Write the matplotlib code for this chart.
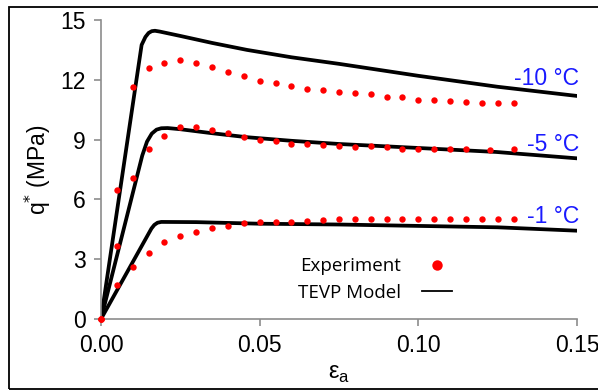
import numpy as np
import matplotlib
matplotlib.use('Agg')
import matplotlib.pyplot as plt
from matplotlib.lines import Line2D
from matplotlib.patches import Rectangle

plt.rcParams['font.family'] = ['Liberation Sans', 'DejaVu Sans']

# experiment (strain, q* in MPa)
x_exp = [0, 0.005, 0.01, 0.015, 0.02, 0.025, 0.03, 0.035, 0.04, 0.045, 0.05,
         0.055, 0.06, 0.065, 0.07, 0.075, 0.08, 0.085, 0.09, 0.095, 0.1,
         0.105, 0.11, 0.115, 0.12, 0.125, 0.13]
q_exp_m10 = [0, 6.47, 11.64, 12.58, 12.84, 13.01, 12.84, 12.66, 12.41, 12.18,
             11.94, 11.83, 11.71, 11.54, 11.47, 11.40, 11.32, 11.29, 11.15,
             11.12, 10.99, 10.97, 10.95, 10.89, 10.84, 10.84, 10.85]
x_exp_m5 = [0, 0.005, 0.01, 0.015, 0.02, 0.025, 0.03, 0.035, 0.04, 0.045,
            0.05, 0.055, 0.06, 0.065, 0.07, 0.075, 0.08, 0.085, 0.09, 0.095,
            0.1, 0.105, 0.11, 0.115, 0.1225, 0.13]
q_exp_m5 = [0, 3.66, 7.06, 8.53, 9.18, 9.61, 9.65, 9.48, 9.35, 9.15, 8.98,
            8.95, 8.80, 8.80, 8.73, 8.68, 8.65, 8.68, 8.65, 8.53, 8.53, 8.53,
            8.53, 8.51, 8.48, 8.53]
q_exp_m1 = [0, 1.71, 2.59, 3.29, 3.88, 4.18, 4.38, 4.58, 4.67, 4.83, 4.85,
            4.85, 4.88, 4.93, 4.97, 5.02, 5.02, 5.02, 5.02, 5.02, 5.02, 5.02,
            5.02, 5.02, 5.02, 5.02, 5.02]

# TEVP model
x_mod_m10 = [0, 0.0128, 0.014, 0.015, 0.016, 0.017, 0.0185, 0.025, 0.035,
             0.046, 0.06, 0.075, 0.1, 0.125, 0.15]
q_mod_m10 = [0, 13.75, 14.15, 14.35, 14.44, 14.46, 14.42, 14.2, 13.85,
             13.5, 13.13, 12.8, 12.2, 11.65, 11.19]
x_mod_m5 = [0, 0.013, 0.0145, 0.016, 0.0175, 0.019, 0.021, 0.025, 0.035,
            0.046, 0.06, 0.075, 0.1, 0.1245, 0.15]
q_mod_m5 = [0, 8.2, 8.9, 9.3, 9.5, 9.57, 9.58, 9.52, 9.32, 9.12, 8.94, 8.78,
            8.58, 8.38, 8.06]
x_mod_m1 = [0, 0.0159, 0.0168, 0.0178, 0.019, 0.03, 0.05, 0.075, 0.1, 0.125,
            0.15]
q_mod_m1 = [0, 4.54, 4.72, 4.83, 4.87, 4.86, 4.78, 4.74, 4.67, 4.6, 4.43]

temps = ['-10 °C', '-5 °C', '-1 °C']
temp_y = [12.09, 8.73, 5.12]

fig = plt.figure(figsize=(5.98, 3.91), dpi=100)
ax = fig.add_axes([101/598, 72/391, 476/598, 299/391])

for xm, qm in [(x_mod_m10, q_mod_m10), (x_mod_m5, q_mod_m5),
               (x_mod_m1, q_mod_m1)]:
    ax.plot(xm, qm, color='black', lw=2.7, solid_joinstyle='round', zorder=2)

for xe, qe in [(x_exp, q_exp_m10), (x_exp_m5, q_exp_m5), (x_exp, q_exp_m1)]:
    ax.plot(xe, qe, 'o', color='red', ms=4.6, mew=0, zorder=3, clip_on=False)

for t, ty in zip(temps, temp_y):
    ax.text(0.1507, ty, t, color='#1a1aff', fontsize=16.5, ha='right',
            va='center')

ax.set_xlim(0, 0.15)
ax.set_ylim(0, 15)
ax.set_xticks([0, 0.05, 0.10, 0.15])
ax.set_xticklabels(['0.00', '0.05', '0.10', '0.15'])
ax.set_yticks([0, 3, 6, 9, 12, 15])
for s in ['top', 'right']:
    ax.spines[s].set_visible(False)
for s in ['left', 'bottom']:
    ax.spines[s].set_color('#8c8c8c')
    ax.spines[s].set_linewidth(1.2)
ax.tick_params(direction='out', length=5, width=1.2, color='#8c8c8c',
               labelsize=16.5, pad=6)
ax.set_ylabel('q$^{*}$ (MPa)', fontsize=16.5, labelpad=5)
ax.set_xlabel('ε$_{\\mathregular{a}}$', fontsize=17, labelpad=4)

handles = [Line2D([], [], ls='none', marker='o', color='red', ms=7.5, mew=0),
           Line2D([], [], color='black', lw=1.3)]
leg = ax.legend(handles, ['Experiment', 'TEVP Model'], loc='center left',
                bbox_to_anchor=(298/598, 0.285), bbox_transform=fig.transFigure,
                frameon=False, markerfirst=False, borderpad=0, borderaxespad=0,
                handlelength=1.6, handletextpad=1.1, labelspacing=0.45,
                prop={'family': 'Open Sans', 'size': 13.5})

fig.patches.append(Rectangle((9/598, 2/391), 1.0, 382/391, fill=False,
                             ec='black', lw=1.3, transform=fig.transFigure))

fig.savefig('out.png', dpi=100)
